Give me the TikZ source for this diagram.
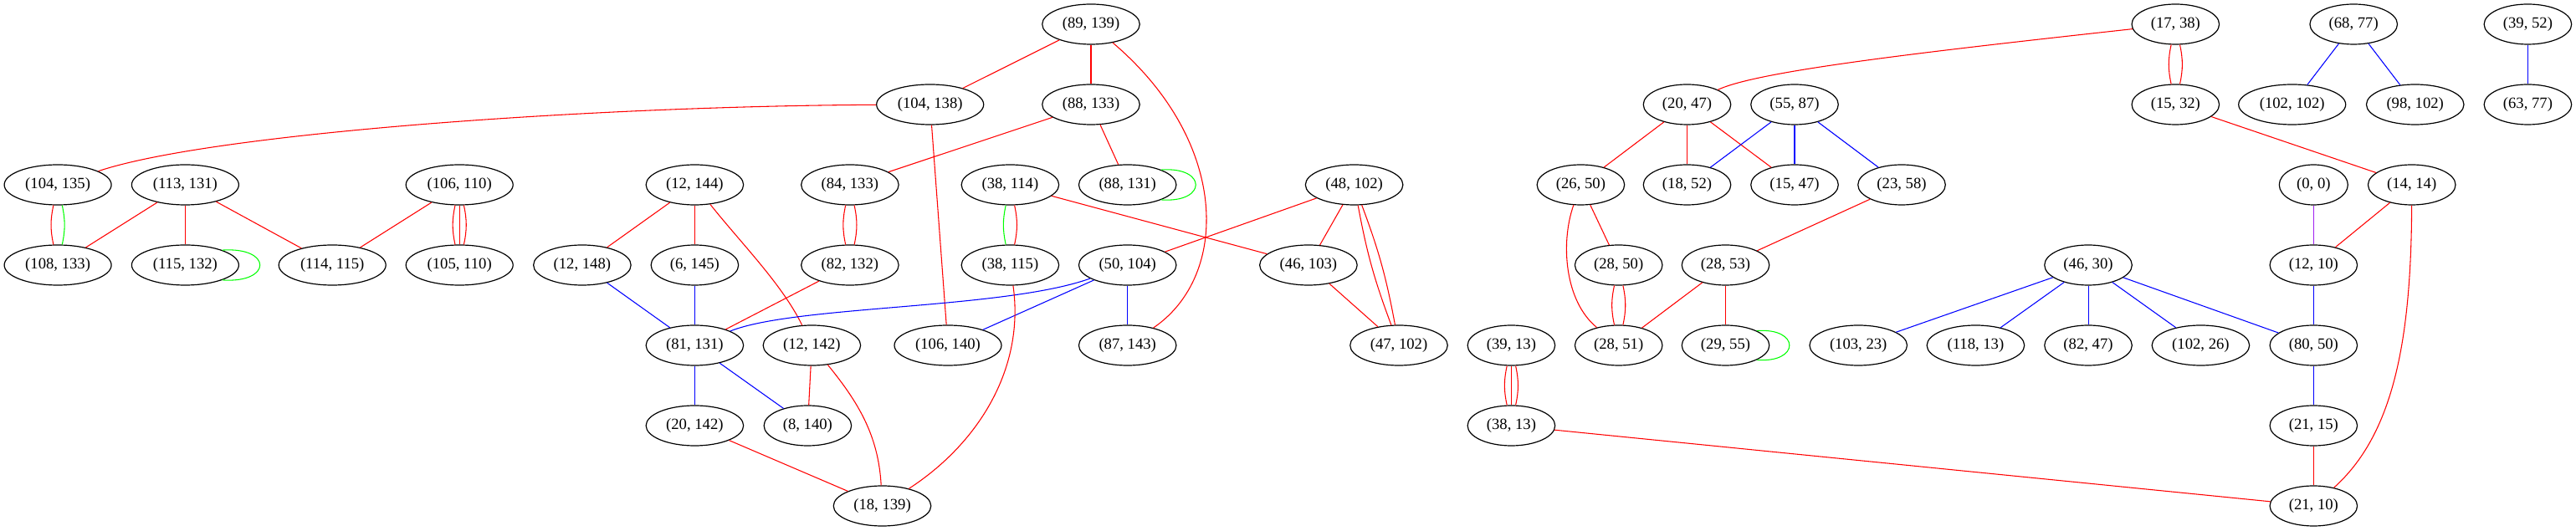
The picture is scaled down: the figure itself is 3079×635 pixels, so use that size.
\documentclass[tikz,border=0pt]{standalone}
\usepackage{fontspec}
\setmainfont{Liberation Serif}
\usetikzlibrary{shapes.geometric}
\definecolor{gvgreen}{RGB}{0,255,0}
\definecolor{gvpurple}{RGB}{160,32,240}
\tikzset{
  nd/.style={draw, ellipse, line width=0.9pt, minimum height=36pt, inner sep=0pt,
    font=\fontsize{14pt}{16pt}\selectfont},
  wa/.style={nd, minimum width=61.5pt},
  wb/.style={nd, minimum width=78.4pt},
  wc/.style={nd, minimum width=87.4pt},
  wd/.style={nd, minimum width=96pt},
  ered/.style={draw=red, line width=0.8pt},
  eblue/.style={draw=blue, line width=0.8pt},
  egreen/.style={draw=gvgreen, line width=0.8pt},
  epurple/.style={draw=gvpurple, line width=0.8pt}
}
\begin{document}
\begin{tikzpicture}[x=0.75pt, y=0.75pt]
\useasboundingbox (0,0) rectangle (3079,635);
% row 1
\node[wc] (a89x139) at (1304,606) {(89, 139)};
\node[wb] (a17x38) at (2600.3,606) {(17, 38)};
\node[wb] (a68x77) at (2813.2,606) {(68, 77)};
\node[wb] (a39x52) at (3021.4,606) {(39, 52)};
% row 2
\node[wd] (a104x138) at (1111.7,510) {(104, 138)};
\node[wc] (a88x133) at (1304,510) {(88, 133)};
\node[wb] (a20x47) at (2016.5,510) {(20, 47)};
\node[wb] (a55x87) at (2145,510) {(55, 87)};
\node[wb] (a15x32) at (2600.3,510) {(15, 32)};
\node[wd] (a102x102) at (2739.7,510) {(102, 102)};
\node[wc] (a98x102) at (2886.7,510) {(98, 102)};
\node[wb] (a63x77) at (3021.4,510) {(63, 77)};
% row 3
\node[wd] (a104x135) at (69.1,414) {(104, 135)};
\node[wd] (a113x131) at (221.4,414) {(113, 131)};
\node[wd] (a106x110) at (549.2,414) {(106, 110)};
\node[wc] (a12x144) at (830.4,414) {(12, 144)};
\node[wc] (a84x133) at (1015.9,414) {(84, 133)};
\node[wc] (a38x114) at (1207.4,414) {(38, 114)};
\node[wc] (a88x131) at (1347.7,414) {(88, 131)};
\node[wc] (a48x102) at (1618.6,414) {(48, 102)};
\node[wb] (a26x50) at (1889.4,414) {(26, 50)};
\node[wb] (a18x52) at (2016.5,414) {(18, 52)};
\node[wb] (a15x47) at (2145,414) {(15, 47)};
\node[wb] (a23x58) at (2273,414) {(23, 58)};
\node[wa] (a0x0) at (2765.3,414) {(0, 0)};
\node[wb] (a14x14) at (2882.7,414) {(14, 14)};
% row 4
\node[wd] (a108x133) at (69.1,318) {(108, 133)};
\node[wd] (a115x132) at (221.4,318) {(115, 132)};
\node[wd] (a114x115) at (397.2,318) {(114, 115)};
\node[wd] (a105x110) at (549.2,318) {(105, 110)};
\node[wc] (a12x148) at (695.9,318) {(12, 148)};
\node[wb] (a6x145) at (830.4,318) {(6, 145)};
\node[wc] (a82x132) at (1015.9,318) {(82, 132)};
\node[wc] (a38x115) at (1207.4,318) {(38, 115)};
\node[wc] (a50x104) at (1347.7,318) {(50, 104)};
\node[wc] (a46x103) at (1563.9,318) {(46, 103)};
\node[wb] (a28x50) at (1934.7,318) {(28, 50)};
\node[wb] (a28x53) at (2062.5,318) {(28, 53)};
\node[wb] (a46x30) at (2496,318) {(46, 30)};
\node[wb] (a12x10) at (2765.3,318) {(12, 10)};
% row 5
\node[wc] (a81x131) at (830.4,222) {(81, 131)};
\node[wc] (a12x142) at (970.4,222) {(12, 142)};
\node[wd] (a106x140) at (1133,222) {(106, 140)};
\node[wc] (a87x143) at (1347.7,222) {(87, 143)};
\node[wc] (a47x102) at (1672,222) {(47, 102)};
\node[wb] (a39x13) at (1806.4,222) {(39, 13)};
\node[wb] (a28x51) at (1934.7,222) {(28, 51)};
\node[wb] (a29x55) at (2062.5,222) {(29, 55)};
\node[wc] (a103x23) at (2221.2,222) {(103, 23)};
\node[wc] (a118x13) at (2361.4,222) {(118, 13)};
\node[wb] (a82x47) at (2496,222) {(82, 47)};
\node[wc] (a102x26) at (2630.4,222) {(102, 26)};
\node[wb] (a80x50) at (2765.3,222) {(80, 50)};
% row 6
\node[wc] (a20x142) at (830.4,126) {(20, 142)};
\node[wb] (a8x140) at (965.4,126) {(8, 140)};
\node[wb] (a38x13) at (1806.4,126) {(38, 13)};
\node[wb] (a21x15) at (2765.3,126) {(21, 15)};
% row 7
\node[wc] (a18x139) at (1054.5,30) {(18, 139)};
\node[wb] (a21x10) at (2765.3,30) {(21, 10)};

% edges
\draw[ered] (a89x139) -- (a104x138);
\draw[ered] (a89x139) -- (a88x133);
\draw[ered] (a89x139) .. controls (1470,465) and (1470,305) .. (a87x143);
\draw[ered] (a104x138) .. controls (700,508) and (250,475) .. (a104x135);
\draw[ered] (a104x138) -- (a106x140);
\draw[ered] (a88x133) -- (a84x133);
\draw[ered] (a88x133) -- (a88x131);
\draw[egreen] (a88x131.24) .. controls +(55,4) and +(55,-4) .. (a88x131.-24);
\draw[ered] (a104x135) to[bend right=12] (a108x133);
\draw[egreen] (a104x135) to[bend left=12] (a108x133);
\draw[ered] (a113x131) -- (a108x133);
\draw[ered] (a113x131) -- (a115x132);
\draw[ered] (a113x131) -- (a114x115);
\draw[egreen] (a115x132.22) .. controls +(60,4) and +(60,-4) .. (a115x132.-22);
\draw[ered] (a106x110) -- (a114x115);
\draw[ered] (a106x110) to[bend right=12] (a105x110);
\draw[ered] (a106x110) -- (a105x110);
\draw[ered] (a106x110) to[bend left=12] (a105x110);
\draw[ered] (a12x144) -- (a12x148);
\draw[ered] (a12x144) -- (a6x145);
\draw[ered] (a12x144) .. controls (885,345) and (935,295) .. (a12x142);
\draw[ered] (a84x133) to[bend right=12] (a82x132);
\draw[ered] (a84x133) to[bend left=12] (a82x132);
\draw[egreen] (a38x114) to[bend right=12] (a38x115);
\draw[ered] (a38x114) to[bend left=12] (a38x115);
\draw[ered] (a38x114) -- (a46x103);
\draw[ered] (a48x102) -- (a50x104);
\draw[ered] (a48x102) -- (a46x103);
\draw[ered] (a48x102) to[bend right=5] (a47x102);
\draw[ered] (a48x102) to[bend left=5] (a47x102);
\draw[eblue] (a12x148) -- (a81x131);
\draw[eblue] (a6x145) -- (a81x131);
\draw[ered] (a82x132) -- (a81x131);
\draw[eblue] (a50x104) .. controls (1200,265) and (950,270) .. (a81x131);
\draw[eblue] (a50x104) -- (a106x140);
\draw[eblue] (a50x104) -- (a87x143);
\draw[ered] (a38x115) .. controls (1225,195) and (1170,105) .. (a18x139);
\draw[ered] (a46x103) -- (a47x102);
\draw[eblue] (a81x131) -- (a20x142);
\draw[eblue] (a81x131) -- (a8x140);
\draw[ered] (a12x142) -- (a8x140);
\draw[ered] (a12x142) .. controls (1025,155) and (1050,115) .. (a18x139);
\draw[ered] (a20x142) -- (a18x139);
\draw[ered] (a17x38) .. controls (2300,573) and (2100,550) .. (a20x47);
\draw[ered] (a17x38) to[bend right=12] (a15x32);
\draw[ered] (a17x38) to[bend left=12] (a15x32);
\draw[eblue] (a68x77) -- (a102x102);
\draw[eblue] (a68x77) -- (a98x102);
\draw[eblue] (a39x52) -- (a63x77);
\draw[ered] (a20x47) -- (a26x50);
\draw[ered] (a20x47) -- (a18x52);
\draw[ered] (a20x47) -- (a15x47);
\draw[eblue] (a55x87) -- (a18x52);
\draw[eblue] (a55x87) -- (a15x47);
\draw[eblue] (a55x87) -- (a23x58);
\draw[ered] (a15x32) -- (a14x14);
\draw[epurple] (a0x0) -- (a12x10);
\draw[ered] (a14x14) -- (a12x10);
\draw[ered] (a14x14) .. controls (2882,225) and (2860,115) .. (a21x10);
\draw[ered] (a26x50) -- (a28x50);
\draw[ered] (a26x50) .. controls (1865,345) and (1870,275) .. (a28x51);
\draw[ered] (a23x58) -- (a28x53);
\draw[ered] (a28x50) to[bend right=12] (a28x51);
\draw[ered] (a28x50) to[bend left=12] (a28x51);
\draw[ered] (a28x53) -- (a28x51);
\draw[ered] (a28x53) -- (a29x55);
\draw[egreen] (a29x55.25) .. controls +(52,4) and +(52,-4) .. (a29x55.-25);
\draw[eblue] (a46x30) -- (a103x23);
\draw[eblue] (a46x30) -- (a118x13);
\draw[eblue] (a46x30) -- (a82x47);
\draw[eblue] (a46x30) -- (a102x26);
\draw[eblue] (a46x30) -- (a80x50);
\draw[eblue] (a12x10) -- (a80x50);
\draw[eblue] (a80x50) -- (a21x15);
\draw[ered] (a21x15) -- (a21x10);
\draw[ered] (a39x13) to[bend right=12] (a38x13);
\draw[ered] (a39x13) -- (a38x13);
\draw[ered] (a39x13) to[bend left=12] (a38x13);
\draw[ered] (a38x13) -- (a21x10);
\end{tikzpicture}
\end{document}
